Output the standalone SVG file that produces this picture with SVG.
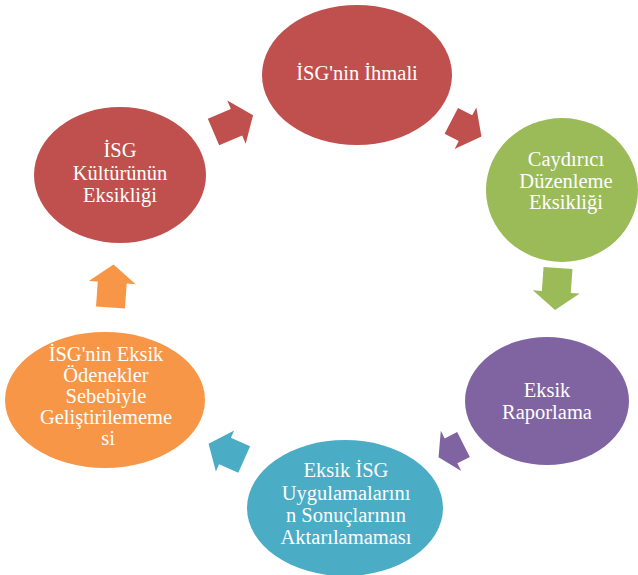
<svg xmlns="http://www.w3.org/2000/svg" width="638" height="575" viewBox="0 0 638 575">
<style>
.lbl{font-size:20.5px;fill:#fff;text-anchor:middle}
.red{fill:#C0504D}.green{fill:#9BBB59}.purple{fill:#8064A2}.teal{fill:#4BACC6}.orange{fill:#F79646}
</style>
<rect width="638" height="575" fill="#fff"/>
<g id="connectors">
<polygon class="red" points="0,-14.5 25,-14.5 25,-23.5 43,0 25,23.5 25,14.5 0,14.5" transform="translate(213.5,132) rotate(-23)"/>
<polygon class="red" points="0,-14.5 16,-14.5 16,-23.5 34,0 16,23.5 16,14.5 0,14.5" transform="translate(451.3,120.8) rotate(27.6)"/>
<polygon class="green" points="0,-14.5 24,-14.5 24,-23.5 42,0 24,23.5 24,14.5 0,14.5" transform="translate(558,268) rotate(94)"/>
<polygon class="purple" points="0,-14 14,-14 14,-22.5 28,0 14,22.5 14,14 0,14" transform="translate(463.5,444.5) rotate(153)"/>
<polygon class="teal" points="0,-14.5 21,-14.5 21,-22.5 39,0 21,22.5 21,14.5 0,14.5" transform="translate(244.2,459.5) rotate(204)"/>
<polygon class="orange" points="0,-14.5 25,-14.5 25,-23.5 43,0 25,23.5 25,14.5 0,14.5" transform="translate(110.5,307.5) rotate(-86)"/>
</g>
<g font-family="Liberation Serif, Times New Roman, serif">
<g id="node1">
<ellipse class="red" cx="357" cy="75" rx="95" ry="70"/>
<text class="lbl" x="357" y="80">İSG'nin İhmali</text>
</g>
<g id="node2">
<ellipse class="green" cx="562" cy="190" rx="76" ry="72"/>
<text class="lbl" x="566" y="166">Caydırıcı</text>
<text class="lbl" x="566" y="188">Düzenleme</text>
<text class="lbl" x="566" y="209">Eksikliği</text>
</g>
<g id="node3">
<ellipse class="purple" cx="547" cy="401" rx="82" ry="64"/>
<text class="lbl" x="547" y="397">Eksik</text>
<text class="lbl" x="547" y="419">Raporlama</text>
</g>
<g id="node4">
<ellipse class="teal" cx="345" cy="508" rx="98" ry="68"/>
<text class="lbl" x="346" y="477">Eksik İSG</text>
<text class="lbl" x="346" y="500">Uygulamalarını</text>
<text class="lbl" x="346" y="522">n Sonuçlarının</text>
<text class="lbl" x="346" y="544">Aktarılamaması</text>
</g>
<g id="node5">
<ellipse class="orange" cx="105" cy="400" rx="100" ry="68"/>
<text class="lbl" x="106" y="361">İSG'nin Eksik</text>
<text class="lbl" x="106" y="382">Ödenekler</text>
<text class="lbl" x="106" y="403">Sebebiyle</text>
<text class="lbl" x="106" y="424">Geliştirilememe</text>
<text class="lbl" x="108" y="445">si</text>
</g>
<g id="node6">
<ellipse class="red" cx="120" cy="175" rx="86" ry="68"/>
<text class="lbl" x="120" y="157">İSG</text>
<text class="lbl" x="120" y="180">Kültürünün</text>
<text class="lbl" x="120" y="202">Eksikliği</text>
</g>
</g>
</svg>
